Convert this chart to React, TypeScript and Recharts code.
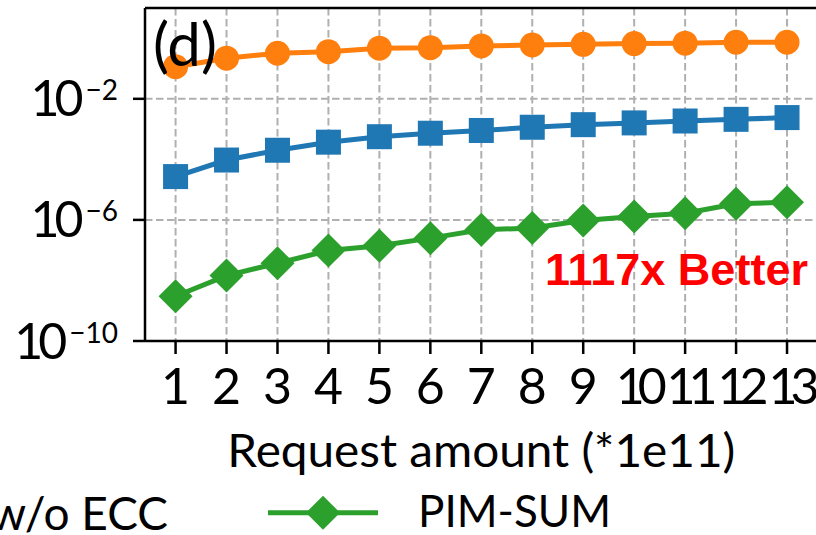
import React from "react"
import {
  LineChart,
  Line,
  XAxis,
  YAxis,
  CartesianGrid,
  ReferenceLine,
  Label,
} from "recharts"

// request amount (*1e11)
const requestAmounts = [1, 2, 3, 4, 5, 6, 7, 8, 9, 10, 11, 12, 13]

// error rates
const eccRate = [2.7e-5, 9.5e-5, 2.0e-4, 3.7e-4, 5.6e-4, 7.3e-4, 9.0e-4, 1.15e-3, 1.4e-3, 1.6e-3, 1.85e-3, 2.1e-3, 2.4e-3]
const woEccRate = [0.115, 0.22, 0.32, 0.36, 0.47, 0.49, 0.56, 0.6, 0.63, 0.67, 0.69, 0.74, 0.74]
const pimSumRate = [3e-9, 1.45e-8, 3.7e-8, 9.7e-8, 1.4e-7, 2.5e-7, 4.7e-7, 5.4e-7, 9.5e-7, 1.3e-6, 1.65e-6, 3.4e-6, 3.8e-6]

const yTicks = [1e-10, 1e-6, 1e-2]

const BLUE = "#1f77b4"
const ORANGE = "#ff7f0e"
const GREEN = "#2ca02c"
const FONT = "Lato, 'Open Sans', sans-serif"

const data = requestAmounts.map((x, i) => ({
  x,
  ecc: eccRate[i],
  woEcc: woEccRate[i],
  pimSum: pimSumRate[i],
}))

function XTick({ x, y, payload }: any) {
  const label = String(payload.value)
  const tight = label.length > 1
  return (
    <text
      x={x}
      y={y}
      dy={50}
      dx={tight ? 3.5 : 0}
      textAnchor="middle"
      fontSize={50}
      fontFamily={FONT}
      fill="#000"
      letterSpacing={tight ? -7 : 0}
    >
      {label}
    </text>
  )
}

/** 10^n 형태의 로그 눈금 라벨 */
function YTick({ x, y, payload }: any) {
  const exp = Math.round(Math.log10(payload.value))
  return (
    <text x={x} y={y} dy={17.5} textAnchor="end" fontFamily={FONT} fill="#000">
      <tspan fontSize={50} letterSpacing={-5}>
        10
      </tspan>
      <tspan fontSize={28} dx={7} dy={-16}>
        {"\u2212" + Math.abs(exp)}
      </tspan>
    </text>
  )
}

const circleDot = (p: any) =>
  p.cx == null ? null : <circle key={`c${p.index}`} cx={p.cx} cy={p.cy} r={12.5} fill={ORANGE} />

const squareDot = (p: any) =>
  p.cx == null ? null : (
    <rect key={`s${p.index}`} x={p.cx - 12.5} y={p.cy - 12.5} width={25} height={25} fill={BLUE} />
  )

const diamondPath = (cx: number, cy: number, r: number) =>
  `M${cx},${cy - r}L${cx + r},${cy}L${cx},${cy + r}L${cx - r},${cy}Z`

const diamondDot = (p: any) =>
  p.cx == null ? null : <path key={`d${p.index}`} d={diamondPath(p.cx, p.cy, 17)} fill={GREEN} />

export default function App() {
  return (
    <div
      style={{
        position: "fixed",
        left: 0,
        top: 0,
        width: 816,
        height: 535,
        overflow: "hidden",
        background: "#fff",
      }}
    >
      <LineChart width={900} height={535} data={data} margin={{ top: 8, right: 82.4, left: 0, bottom: 0 }}>
        <CartesianGrid stroke="#b0b0b0" strokeWidth={2} strokeDasharray="7.5 3.5" />
        <XAxis
          dataKey="x"
          type="number"
          domain={[0.4, 13.6]}
          ticks={requestAmounts}
          interval={0}
          height={194}
          tickSize={13}
          tickMargin={0}
          tick={<XTick />}
          axisLine={{ stroke: "#000", strokeWidth: 2.5 }}
          tickLine={{ stroke: "#000", strokeWidth: 2.5 }}
        >
          <Label
            content={({ viewBox }: any) => (
              <text
                x={viewBox.x + viewBox.width / 2}
                y={viewBox.y + 126}
                textAnchor="middle"
                fontSize={46}
                fontFamily={FONT}
                fill="#000"
                textLength={508}
                lengthAdjust="spacingAndGlyphs"
              >
                Request amount (*1e11)
              </text>
            )}
          />
        </XAxis>
        <YAxis
          type="number"
          scale="log"
          domain={[1e-10, 10]}
          allowDataOverflow
          ticks={yTicks}
          interval={0}
          width={145}
          tickSize={12}
          tickMargin={15}
          tick={<YTick />}
          axisLine={{ stroke: "#000", strokeWidth: 2.5 }}
          tickLine={{ stroke: "#000", strokeWidth: 2.5 }}
        />
        <ReferenceLine y={10} stroke="#000" strokeWidth={2.5} />
        <Line dataKey="ecc" stroke={BLUE} strokeWidth={5} dot={squareDot} isAnimationActive={false} />
        <Line dataKey="woEcc" stroke={ORANGE} strokeWidth={5} dot={circleDot} isAnimationActive={false} />
        <Line dataKey="pimSum" stroke={GREEN} strokeWidth={5} dot={diamondDot} isAnimationActive={false} />
      </LineChart>

      {/* 패널 라벨, 주석, 잘린 범례 */}
      <svg width={816} height={535} style={{ position: "absolute", left: 0, top: 0, pointerEvents: "none" }}>
        <text x={153} y={66} fontSize={60} fontFamily={FONT} fill="#000">
          (d)
        </text>
        <text
          x={545}
          y={285}
          fontSize={44}
          fontWeight="bold"
          fontFamily="'Liberation Sans', Arial, sans-serif"
          fill="#ff0000"
          textLength={263}
          lengthAdjust="spacingAndGlyphs"
        >
          1117x Better
        </text>
        <text x={168} y={530} textAnchor="end" fontSize={46} fontFamily={FONT} fill="#000">
          w/o ECC
        </text>
        <line x1={268} y1={512.7} x2={378} y2={512.7} stroke={GREEN} strokeWidth={5} />
        <path d={diamondPath(323, 512.7, 17)} fill={GREEN} />
        <text x={418} y={527} fontSize={44} fontFamily={FONT} fill="#000">
          PIM-SUM
        </text>
      </svg>
    </div>
  )
}
